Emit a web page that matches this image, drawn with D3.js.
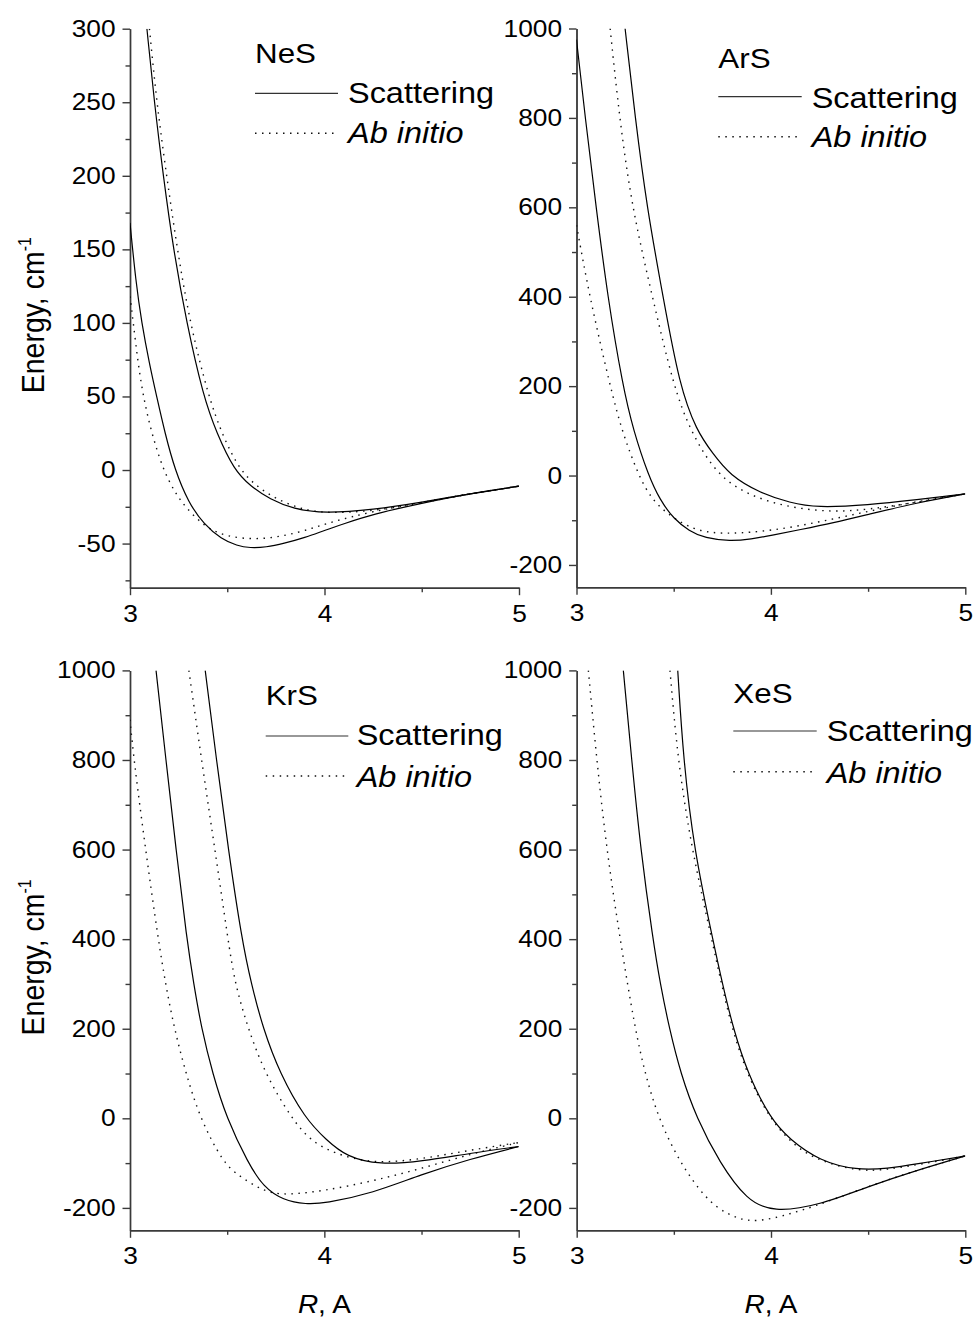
<!DOCTYPE html>
<html><head><meta charset="utf-8">
<script src="https://cdn.jsdelivr.net/npm/d3@7"></script>
<style>
body{margin:0;background:#fff;}
svg text{font-family:"Liberation Sans", Arial, Helvetica, sans-serif; fill:#000;}
</style></head>
<body><svg id="chart" width="977" height="1322"></svg>
<script>
// ---------------- DATA (R in Å, energy in cm^-1) ----------------
const molecules = ["NeS", "ArS", "KrS", "XeS"];
const seriesLabels = ["Scattering", "Ab initio"];
const xTicks = [3, 4, 5];
const xMinorTicks = [3.5, 4.5];
const yDomainNeS = [-80, 300];
const yDomainHeavy = [-250, 1000];
const yTicksNeS = [300, 250, 200, 150, 100, 50, 0, -50];
const yMinorTicksNeS = [275, 225, 175, 125, 75, 25, -25, -75];
const yTicksHeavy = [1000, 800, 600, 400, 200, 0, -200];
const yMinorTicksHeavy = [900, 700, 500, 300, 100, -100];

// NeS
const NeS_scattering_1 = [[3.0,168],[3.03,128],[3.06,100],[3.1,72],[3.137,50],[3.18,25],[3.231,0],[3.3,-22],[3.38,-37],[3.47,-47],[3.55,-51.5],[3.617,-53],[3.7,-52.5],[3.79,-50],[3.9,-46],[4.0,-41],[4.1,-36.5],[4.25,-30],[4.5,-22.5],[4.75,-16],[5.0,-11]];
const NeS_abInitio_1   = [[3.0,118],[3.017,100],[3.04,74],[3.068,50],[3.111,25],[3.171,0],[3.23,-15],[3.283,-25],[3.386,-39],[3.5,-45.5],[3.65,-47.3],[3.79,-45],[3.93,-40],[4.03,-35.5],[4.25,-28],[4.5,-22],[4.75,-16],[5.0,-11]];
const NeS_scattering_2 = [[3.087,300],[3.125,250],[3.171,200],[3.223,150],[3.291,100],[3.377,50],[3.446,25],[3.535,0],[3.62,-11],[3.72,-20],[3.84,-26.5],[4.0,-29.5],[4.25,-27],[4.5,-22],[4.75,-16],[5.0,-11]];
const NeS_abInitio_2   = [[3.1,300],[3.137,250],[3.188,200],[3.243,150],[3.308,100],[3.403,50],[3.48,22],[3.565,0],[3.65,-11],[3.754,-20],[3.88,-26.5],[4.0,-29.5],[4.25,-28],[4.5,-22.5],[4.75,-16],[5.0,-11]];
// ArS
const ArS_scattering_1 = [[3.0,975],[3.045,800],[3.101,600],[3.16,400],[3.238,200],[3.293,100],[3.37,0],[3.43,-55],[3.5,-97],[3.58,-124],[3.66,-140],[3.79,-147],[3.9,-142],[4.0,-134],[4.15,-121],[4.32,-106],[4.5,-87],[4.75,-61],[5.0,-41]];
const ArS_abInitio_1   = [[3.0,560],[3.067,400],[3.173,200],[3.233,100],[3.319,0],[3.387,-54],[3.482,-91],[3.602,-121],[3.7,-128],[3.79,-130],[4.0,-124],[4.25,-104],[4.5,-80],[4.75,-58],[5.0,-41]];
const ArS_scattering_2 = [[3.25,1000],[3.302,800],[3.362,600],[3.445,400],[3.53,200],[3.618,100],[3.7,50],[3.79,0],[3.944,-39],[4.099,-61],[4.236,-72],[4.5,-66],[4.75,-54],[5.0,-41]];
const ArS_abInitio_2   = [[3.173,1000],[3.221,800],[3.285,600],[3.39,400],[3.499,200],[3.585,100],[3.722,0],[3.893,-46],[4.099,-72],[4.321,-82],[4.5,-76],[4.75,-60],[5.0,-41]];
// KrS
const KrS_scattering_1 = [[3.134,1000],[3.185,800],[3.237,600],[3.292,400],[3.328,300],[3.368,200],[3.425,100],[3.497,0],[3.608,-100],[3.686,-153],[3.788,-183],[3.908,-192],[4.0,-190],[4.25,-167],[4.5,-125],[4.75,-91],[5.0,-63]];
const KrS_abInitio_1   = [[3.0,890],[3.02,800],[3.08,600],[3.145,400],[3.183,300],[3.228,200],[3.288,100],[3.36,0],[3.48,-100],[3.56,-128],[3.65,-153],[3.72,-166],[3.806,-171],[4.0,-162],[4.25,-140],[4.5,-112],[4.75,-80],[5.0,-54]];
const KrS_scattering_2 = [[3.387,1000],[3.445,800],[3.506,600],[3.575,400],[3.624,300],[3.685,200],[3.771,100],[3.9,0],[4.011,-48.5],[4.114,-86],[4.285,-104],[4.5,-96],[4.75,-78],[5.0,-63]];
const KrS_abInitio_2   = [[3.303,1000],[3.368,800],[3.437,600],[3.504,400],[3.54,300],[3.608,200],[3.694,100],[3.831,0],[3.925,-48.5],[4.045,-78],[4.25,-102],[4.5,-91],[4.75,-71],[5.0,-54]];
// XeS
const XeS_scattering_1 = [[3.24,1000],[3.283,800],[3.329,600],[3.392,400],[3.43,300],[3.477,200],[3.535,100],[3.617,0],[3.737,-100],[3.875,-183],[4.012,-210],[4.25,-194],[4.5,-152],[4.75,-116],[5.0,-84]];
const XeS_abInitio_1   = [[3.06,1000],[3.103,800],[3.154,600],[3.223,400],[3.3,200],[3.352,100],[3.42,0],[3.532,-100],[3.669,-183],[3.772,-213],[3.875,-231],[4.0,-226],[4.218,-198],[4.5,-152],[4.75,-116],[5.0,-84]];
const XeS_scattering_2 = [[3.52,1000],[3.549,800],[3.604,600],[3.7,400],[3.75,300],[3.806,200],[3.88,100],[3.995,0],[4.098,-48],[4.25,-95],[4.441,-116],[4.6,-112],[4.75,-102],[5.0,-84]];
const XeS_abInitio_2   = [[3.48,1000],[3.52,800],[3.592,600],[3.695,400],[3.745,300],[3.8,200],[3.875,100],[3.99,0],[4.12,-62],[4.25,-96],[4.458,-119],[4.6,-114],[4.75,-104],[5.0,-84]];

// ---------------- BUILD TABLE ----------------
const curveTable = {
  NeS: {yDomain: yDomainNeS, yTicks: yTicksNeS, yMinor: yMinorTicksNeS,
        scattering: [NeS_scattering_1, NeS_scattering_2], abInitio: [NeS_abInitio_1, NeS_abInitio_2]},
  ArS: {yDomain: yDomainHeavy, yTicks: yTicksHeavy, yMinor: yMinorTicksHeavy,
        scattering: [ArS_scattering_1, ArS_scattering_2], abInitio: [ArS_abInitio_1, ArS_abInitio_2]},
  KrS: {yDomain: yDomainHeavy, yTicks: yTicksHeavy, yMinor: yMinorTicksHeavy,
        scattering: [KrS_scattering_1, KrS_scattering_2], abInitio: [KrS_abInitio_1, KrS_abInitio_2]},
  XeS: {yDomain: yDomainHeavy, yTicks: yTicksHeavy, yMinor: yMinorTicksHeavy,
        scattering: [XeS_scattering_1, XeS_scattering_2], abInitio: [XeS_abInitio_1, XeS_abInitio_2]}
};

// ---------------- LAYOUT ----------------
const SX = 1.12; // horizontal text stretch of the original
const layout = [
  {left:130, right:519, top:28.7, bottom:587.7, title:[255,63.3],
   leg:{x1:255, x2:338, y1:93.3, y2:133.3, tx:348, ty1:103.3, ty2:143.3}, yTitle:true, xTitle:false},
  {left:576.5, right:965.3, top:28.5, bottom:587.3, title:[718.3,68.3],
   leg:{x1:718.3, x2:801.7, y1:96.7, y2:136.7, tx:811.7, ty1:108.3, ty2:146.7}, yTitle:false, xTitle:false},
  {left:130, right:518.7, top:670.4, bottom:1230.3, title:[265.7,705],
   leg:{x1:265.7, x2:348.3, y1:736, y2:776, tx:356.7, ty1:745, ty2:786.7}, yTitle:true, xTitle:true},
  {left:576.7, right:965.3, top:670.4, bottom:1230.3, title:[733.3,703.3],
   leg:{x1:733.3, x2:816.7, y1:731, y2:771.7, tx:826.7, ty1:740.7, ty2:782.7}, yTitle:false, xTitle:true}
];
const AXIS_COLOR = "#3a3a3a";
const DOT_DASH = "1.5,5.5";

const svg = d3.select("#chart");

function addText(g, x, y, s, size) {
  return g.append("text")
    .attr("transform", `translate(${x},${y}) scale(${SX},1)`)
    .style("font-size", size + "px")
    .text(s);
}

molecules.forEach((m, i) => {
  const L = layout[i];
  const D = curveTable[m];
  const g = svg.append("g");
  const x = d3.scaleLinear().domain([3, 5]).range([L.left, L.right]);
  const y = d3.scaleLinear().domain(D.yDomain).range([L.bottom, L.top]);

  const cid = "clip" + i;
  svg.append("clipPath").attr("id", cid).append("rect")
    .attr("x", L.left).attr("y", L.top)
    .attr("width", L.right - L.left).attr("height", L.bottom - L.top);

  const gxm = g.append("g").attr("transform", `translate(0,${L.bottom})`)
    .call(d3.axisBottom(x).tickValues(xMinorTicks).tickSize(4.5).tickSizeOuter(0).tickFormat(""));
  const gym = g.append("g").attr("transform", `translate(${L.left},0)`)
    .call(d3.axisLeft(y).tickValues(D.yMinor).tickSize(4.5).tickSizeOuter(0).tickFormat(""));
  const gx = g.append("g").attr("transform", `translate(0,${L.bottom})`)
    .call(d3.axisBottom(x).tickValues(xTicks).tickSize(7.5).tickPadding(10).tickSizeOuter(0).tickFormat(d3.format("d")));
  const gy = g.append("g").attr("transform", `translate(${L.left},0)`)
    .call(d3.axisLeft(y).tickValues(D.yTicks).tickSize(7.5).tickPadding(5.4).tickSizeOuter(0).tickFormat(d => d < 0 ? "-" + Math.abs(d) : String(d)));

  [gxm, gym, gx, gy].forEach(a => {
    a.selectAll("path, line").attr("stroke", AXIS_COLOR).attr("stroke-width", 1.4);
    a.selectAll("text").style("font-size", "23.5px").attr("fill", "#000")
      .style("font-family", '"Liberation Sans", Arial, sans-serif')
      .attr("transform", `scale(${SX},1)`);
  });

  const line = d3.line().x(d => x(d[0])).y(d => y(d[1])).curve(d3.curveBasis);
  const cg = g.append("g").attr("clip-path", `url(#${cid})`);
  D.abInitio.forEach(arr => {
    cg.append("path").datum(arr).attr("d", line)
      .attr("fill", "none").attr("stroke", "#111").attr("stroke-width", 1.4)
      .attr("stroke-dasharray", DOT_DASH);
  });
  D.scattering.forEach(arr => {
    cg.append("path").datum(arr).attr("d", line)
      .attr("fill", "none").attr("stroke", "#000").attr("stroke-width", 1.2);
  });

  addText(g, L.title[0], L.title[1], m, 28);
  const lg = L.leg;
  g.append("line").attr("x1", lg.x1).attr("x2", lg.x2).attr("y1", lg.y1).attr("y2", lg.y1)
    .attr("stroke", "#333").attr("stroke-width", 1.2);
  g.append("line").attr("x1", lg.x1).attr("x2", lg.x2).attr("y1", lg.y2).attr("y2", lg.y2)
    .attr("stroke", "#111").attr("stroke-width", 1.4).attr("stroke-dasharray", DOT_DASH);
  addText(g, lg.tx, lg.ty1, seriesLabels[0], 29);
  addText(g, lg.tx, lg.ty2, seriesLabels[1], 29).style("font-style", "italic");

  if (L.yTitle) {
    const cy = (L.top + L.bottom) / 2 + 7;
    const t = g.append("text")
      .attr("transform", `translate(44,${cy}) scale(${SX},1) rotate(-90)`)
      .attr("text-anchor", "middle")
      .style("font-size", "28.5px");
    t.append("tspan").text("Energy, cm");
    t.append("tspan").attr("dy", -12).style("font-size", "16px").text("-1");
  }
  if (L.xTitle) {
    const cx = (L.left + L.right) / 2;
    const t = g.append("text")
      .attr("transform", `translate(${cx},1313) scale(${SX},1)`)
      .attr("text-anchor", "middle")
      .style("font-size", "25px");
    t.append("tspan").style("font-style", "italic").text("R");
    t.append("tspan").text(", A");
  }
});
</script>
</body></html>
